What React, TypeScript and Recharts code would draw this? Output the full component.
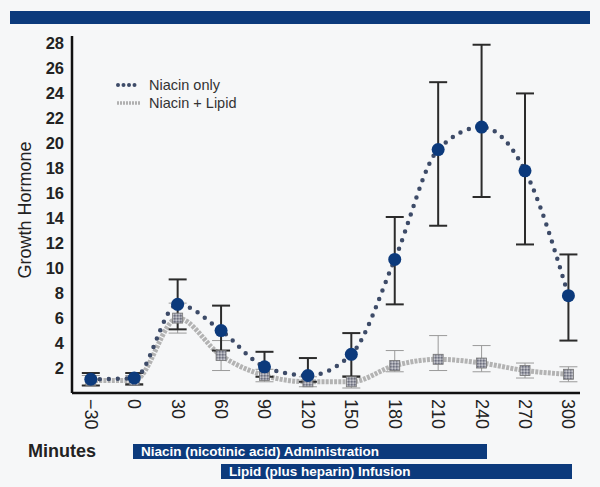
import {
  ErrorBar,
  Legend,
  Line,
  LineChart,
  XAxis,
  YAxis,
} from "recharts";

const minutes = [-30, 0, 30, 60, 90, 120, 150, 180, 210, 240, 270, 300];

const niacinOnly = [1.1, 1.2, 7.1, 5.0, 2.1, 1.4, 3.1, 10.7, 19.5, 21.3, 17.8, 7.8];
const niacinOnlyLow = [0.5, 0.5, 2.0, 1.6, 0.8, 0.5, 1.8, 3.6, 6.1, 5.6, 5.9, 3.6];
const niacinOnlyHigh = [0.5, 0.4, 2.0, 2.0, 1.2, 1.4, 1.7, 3.4, 5.4, 6.6, 6.2, 3.3];

const niacinLipid = [1.0, 1.0, 6.0, 3.0, 1.4, 0.9, 0.9, 2.2, 2.7, 2.4, 1.8, 1.5];
const niacinLipidLow = [0.4, 0.4, 1.2, 1.2, 0.5, 0.4, 0.5, 0.5, 0.9, 0.7, 0.6, 0.6];
const niacinLipidHigh = [0.4, 0.4, 1.2, 1.2, 0.5, 0.4, 0.5, 1.2, 1.9, 1.4, 0.6, 0.6];

const yTicks = [2, 4, 6, 8, 10, 12, 14, 16, 18, 20, 22, 24, 26, 28];

const data = minutes.map((m, i) => ({
  minute: m,
  only: niacinOnly[i],
  onlyErr: [niacinOnlyLow[i], niacinOnlyHigh[i]],
  lipid: niacinLipid[i],
  lipidErr: [niacinLipidLow[i], niacinLipidHigh[i]],
}));

const NAVY = "#0c3a7c";
const FONT = "'Liberation Sans', Arial, sans-serif";

function XTick(props: any) {
  const { x, y, payload } = props;
  const label = payload.value < 0 ? `\u2212${Math.abs(payload.value)}` : `${payload.value}`;
  return (
    <text
      x={x}
      y={y - 2}
      transform={`rotate(90, ${x}, ${y - 2})`}
      textAnchor="start"
      dominantBaseline="central"
      fontFamily={FONT}
      fontSize={18}
      fill="#222"
    >
      {label}
    </text>
  );
}

function NavyDot(props: any) {
  const { cx, cy } = props;
  if (cx == null || cy == null) return null;
  return <circle cx={cx} cy={cy} r={6.5} fill={NAVY} />;
}

function GraySquare(props: any) {
  const { cx, cy } = props;
  if (cx == null || cy == null) return null;
  return (
    <rect
      x={cx - 5}
      y={cy - 5}
      width={10}
      height={10}
      fill="url(#grainy)"
      stroke="#777"
      strokeWidth={0.8}
    />
  );
}

function LegendBox() {
  return (
    <svg width={200} height={40} style={{ display: "block" }}>
      <line
        x1={6}
        y1={9}
        x2={28}
        y2={9}
        stroke="#3d4b68"
        strokeWidth={4}
        strokeDasharray="0 5.5"
        strokeLinecap="round"
      />
      <line
        x1={5}
        y1={27}
        x2={29}
        y2={27}
        stroke="#b0b0b0"
        strokeWidth={3.5}
        strokeDasharray="2 1"
      />
      <text x={37} y={9} dominantBaseline="central" fontFamily={FONT} fontSize={14.5} fill="#333">
        Niacin only
      </text>
      <text x={37} y={27} dominantBaseline="central" fontFamily={FONT} fontSize={14.5} fill="#333">
        Niacin + Lipid
      </text>
    </svg>
  );
}

const barStyle: React.CSSProperties = {
  position: "absolute",
  background: NAVY,
  color: "#fff",
  fontFamily: FONT,
  fontWeight: 700,
  fontSize: 13.5,
  height: 15,
  lineHeight: "15px",
  paddingLeft: 8,
  boxSizing: "border-box",
  whiteSpace: "nowrap",
};

export default function App() {
  return (
    <div
      style={{
        position: "absolute",
        left: 0,
        top: 0,
        width: 600,
        height: 487,
        background: "#f6f7f8",
        overflow: "hidden",
      }}
    >
      <div
        style={{
          position: "absolute",
          left: 10,
          top: 11,
          width: 580,
          height: 13,
          background: NAVY,
        }}
      />
      <div
        style={{
          position: "absolute",
          left: 25,
          top: 210,
          transform: "translate(-50%, -50%) rotate(-90deg)",
          fontFamily: FONT,
          fontSize: 18,
          color: "#222",
          whiteSpace: "nowrap",
        }}
      >
        Growth Hormone
      </div>
      <LineChart
        width={600}
        height={487}
        data={data}
        margin={{ top: 36, right: 20, bottom: 34, left: 22 }}
        style={{ position: "absolute", left: 0, top: 0 }}
      >
        <defs>
          <pattern id="grainy" width="3" height="3" patternUnits="userSpaceOnUse">
            <rect width="3" height="3" fill="#9a9ca6" />
            <rect width="1.5" height="1.5" fill="#6e7080" />
            <rect x="1.5" y="1.5" width="1.5" height="1.5" fill="#c4c5cc" />
          </pattern>
        </defs>
        <XAxis
          dataKey="minute"
          type="number"
          domain={[-43, 308]}
          ticks={minutes}
          tick={<XTick />}
          tickLine={false}
          axisLine={{ stroke: "#111", strokeWidth: 2.5 }}
          height={60}
          interval={0}
        />
        <YAxis
          type="number"
          domain={[0, 28.6]}
          ticks={yTicks}
          tickLine={false}
          axisLine={{ stroke: "#111", strokeWidth: 2.5 }}
          tick={{ fontFamily: FONT, fontSize: 16.5, fontWeight: 700, fill: "#222" }}
          width={50}
          interval={0}
        />
        <Legend
          layout="vertical"
          align="center"
          verticalAlign="middle"
          content={<LegendBox />}
          wrapperStyle={{ left: 112, top: 76, width: 200 }}
        />
        <Line
          type="monotone"
          dataKey="lipid"
          stroke="#b3b3b3"
          strokeWidth={5}
          strokeDasharray="3 1.2"
          dot={<GraySquare />}
          isAnimationActive={false}
        >
          <ErrorBar dataKey="lipidErr" width={9} stroke="#9a9a9a" strokeWidth={1} />
        </Line>
        <Line
          type="monotone"
          dataKey="only"
          stroke="#3d4b68"
          strokeWidth={4.5}
          strokeDasharray="0 9"
          strokeLinecap="round"
          dot={<NavyDot />}
          isAnimationActive={false}
        >
          <ErrorBar dataKey="onlyErr" width={9} stroke="#2b2b2b" strokeWidth={2} />
        </Line>
      </LineChart>
      <div style={{ ...barStyle, left: 133, top: 444, width: 354 }}>
        Niacin (nicotinic acid) Administration
      </div>
      <div style={{ ...barStyle, left: 221, top: 464, width: 351 }}>
        Lipid (plus heparin) Infusion
      </div>
      <div
        style={{
          position: "absolute",
          left: 28,
          top: 441,
          fontFamily: FONT,
          fontWeight: 700,
          fontSize: 18,
          color: "#222",
        }}
      >
        Minutes
      </div>
    </div>
  );
}
